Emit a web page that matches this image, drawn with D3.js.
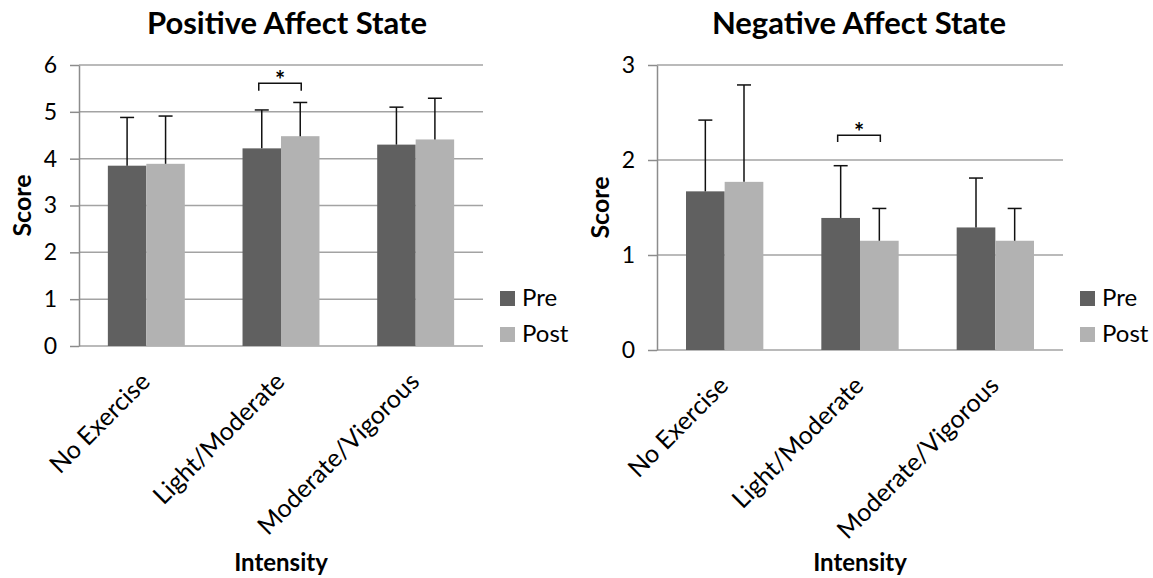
<!DOCTYPE html>
<html>
<head>
<meta charset="utf-8">
<script src="https://cdn.jsdelivr.net/npm/d3@7"></script>
<style>
  body { margin: 0; background: #fff; }
  text { font-family: Lato, "Open Sans", sans-serif; fill: #000; }
</style>
</head>
<body>
<div id="chart"></div>
<script>
// categories and series
const categories = ["No Exercise", "Light/Moderate", "Moderate/Vigorous"];
const series = ["Pre", "Post"];
const colors = {Pre: "#606060", Post: "#b2b2b2"};

// Positive affect state: means and SD (upper error bars)
const posPre = [3.85, 4.22, 4.30];
const posPost = [3.89, 4.48, 4.41];
const posPreErr = [1.03, 0.82, 0.80];
const posPostErr = [1.02, 0.72, 0.88];
const posTicks = [0, 1, 2, 3, 4, 5, 6];

// Negative affect state
const negPre = [1.67, 1.39, 1.29];
const negPost = [1.77, 1.15, 1.15];
const negPreErr = [0.75, 0.55, 0.52];
const negPostErr = [1.02, 0.34, 0.34];
const negTicks = [0, 1, 2, 3];

// significance brackets (category, bracket level, leg end)
const posSig = ["Light/Moderate", 5.61, 5.45];
const negSig = ["Light/Moderate", 2.26, 2.19];

const svg = d3.select("#chart").append("svg")
  .attr("width", 1153)
  .attr("height", 578);

function drawChart(cfg) {
  const g = svg.append("g");

  const x0 = d3.scaleBand()
    .domain(categories)
    .range([cfg.left, cfg.right])
    .padding(0);

  const x1 = d3.scaleBand()
    .domain(series)
    .range([0, x0.bandwidth()])
    .paddingInner(0)
    .paddingOuter(0.75);

  const y = d3.scaleLinear()
    .domain([0, d3.max(cfg.ticks)])
    .range([cfg.bottom, cfg.top]);

  // gridlines
  g.selectAll(".grid")
    .data(cfg.ticks)
    .enter()
    .append("line")
    .attr("x1", cfg.left)
    .attr("x2", cfg.right)
    .attr("y1", d => y(d))
    .attr("y2", d => y(d))
    .attr("stroke", "#a3a3a3")
    .attr("stroke-width", 1.5);

  // y axis
  const yAxis = g.append("g")
    .attr("transform", `translate(${cfg.left},0)`)
    .call(d3.axisLeft(y).tickValues(cfg.ticks).tickFormat(d3.format("d"))
      .tickSizeInner(9).tickSizeOuter(0).tickPadding(13));
  yAxis.selectAll("path, line").attr("stroke", "#8c8c8c").attr("stroke-width", 1.5);
  yAxis.selectAll("text")
    .style("font-size", "23px")
    .style("font-family", "Lato, 'Open Sans', sans-serif");

  // bars
  const rows = [];
  categories.forEach((c, i) => {
    rows.push({cat: c, s: "Pre", v: cfg.pre[i], e: cfg.preErr[i]});
    rows.push({cat: c, s: "Post", v: cfg.post[i], e: cfg.postErr[i]});
  });

  g.selectAll(".bar")
    .data(rows)
    .enter()
    .append("rect")
    .attr("x", d => x0(d.cat) + x1(d.s))
    .attr("y", d => y(d.v))
    .attr("width", x1.bandwidth())
    .attr("height", d => y(0) - y(d.v))
    .attr("fill", d => colors[d.s]);

  // error bars (upper only)
  const cx = d => x0(d.cat) + x1(d.s) + x1.bandwidth() / 2;
  g.selectAll(".err")
    .data(rows)
    .enter()
    .append("line")
    .attr("x1", cx).attr("x2", cx)
    .attr("y1", d => y(d.v))
    .attr("y2", d => y(d.v + d.e))
    .attr("stroke", "#111")
    .attr("stroke-width", 1.5);
  g.selectAll(".cap")
    .data(rows)
    .enter()
    .append("line")
    .attr("x1", d => cx(d) - 7).attr("x2", d => cx(d) + 7)
    .attr("y1", d => y(d.v + d.e))
    .attr("y2", d => y(d.v + d.e))
    .attr("stroke", "#111")
    .attr("stroke-width", 1.5);

  // significance bracket
  const [sc, top, leg] = cfg.sig;
  const bx1 = x0(sc) + x1("Pre") + x1.bandwidth() / 2 - 3;
  const bx2 = x0(sc) + x1("Post") + x1.bandwidth() / 2 + 1;
  g.append("path")
    .attr("d", `M${bx1},${y(leg)}V${y(top)}H${bx2}V${y(leg)}`)
    .attr("fill", "none")
    .attr("stroke", "#111")
    .attr("stroke-width", 1.5);
  g.append("text")
    .attr("x", (bx1 + bx2) / 2)
    .attr("y", y(top) + 6)
    .attr("text-anchor", "middle")
    .style("font-size", "24px")
    .style("font-weight", "bold")
    .text("*");

  // category labels
  g.selectAll(".cat")
    .data(categories)
    .enter()
    .append("text")
    .attr("transform", d => `translate(${x0(d) + x0.bandwidth() / 2 - 1},${cfg.bottom + 31}) rotate(-45)`)
    .attr("text-anchor", "end")
    .attr("dy", "0.35em")
    .style("font-size", "25px")
    .text(d => d);

  // titles
  g.append("text")
    .attr("x", (cfg.left + cfg.right) / 2 + cfg.titleShift)
    .attr("y", 34)
    .attr("text-anchor", "middle")
    .style("font-size", "31px")
    .style("font-weight", "bold")
    .text(cfg.title);

  g.append("text")
    .attr("transform", `translate(${cfg.left - 48},${(cfg.top + cfg.bottom) / 2}) rotate(-90)`)
    .attr("text-anchor", "middle")
    .style("font-size", "25px")
    .style("font-weight", "bold")
    .text("Score");

  g.append("text")
    .attr("x", (cfg.left + cfg.right) / 2)
    .attr("y", 571)
    .attr("text-anchor", "middle")
    .style("font-size", "24px")
    .style("font-weight", "bold")
    .text("Intensity");

  // legend
  const lg = g.append("g").attr("transform", `translate(${cfg.right + 17},${cfg.legendTop})`);
  series.forEach((s, i) => {
    lg.append("rect")
      .attr("x", 0).attr("y", i * 36)
      .attr("width", 15).attr("height", 15)
      .attr("fill", colors[s]);
    lg.append("text")
      .attr("x", 22).attr("y", i * 36 + 15)
      .style("font-size", "24px")
      .text(s);
  });
}

drawChart({
  title: "Positive Affect State", titleShift: 6,
  left: 79, right: 483, top: 65, bottom: 346,
  pre: posPre, post: posPost, preErr: posPreErr, postErr: posPostErr,
  ticks: posTicks, sig: posSig, legendTop: 291
});

drawChart({
  title: "Negative Affect State", titleShift: -1,
  left: 657, right: 1063, top: 65, bottom: 350,
  pre: negPre, post: negPost, preErr: negPreErr, postErr: negPostErr,
  ticks: negTicks, sig: negSig, legendTop: 291
});
</script>
</body>
</html>
